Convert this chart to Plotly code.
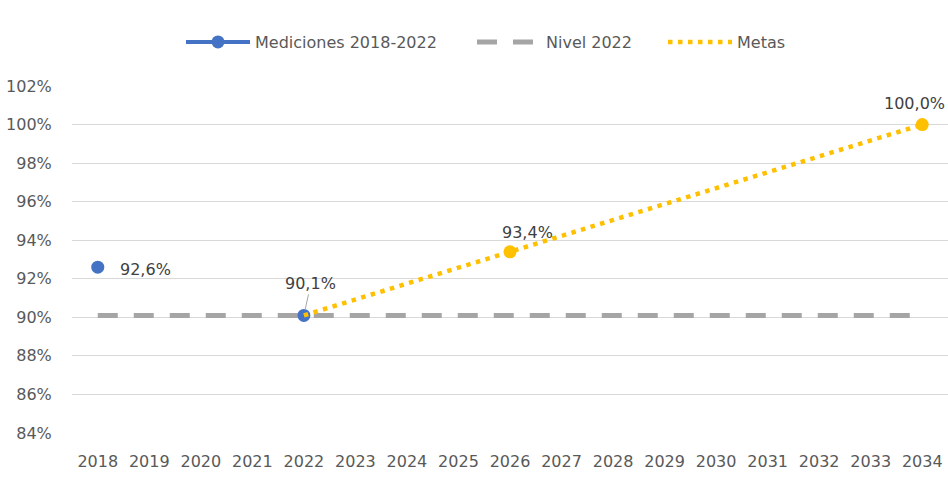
import plotly.graph_objects as go

years = [str(y) for y in range(2018, 2035)]
mediciones = [92.6, None, None, None, 90.1] + [None] * 12
nivel_2022 = [90.1] * 17
metas_years = ["2022", "2026", "2034"]
metas = [90.1, 93.4, 100.0]
y_ticks = list(range(84, 103, 2))
y_tick_labels = [f"{v}%" for v in y_ticks]

FONT = "DejaVu Sans"
GREY_TXT = "#595959"
BLUE = "#4472C4"
GOLD = "#FFC000"
DASH = "#A5A5A5"


def fmt(v):
    return f"{v:.1f}%".replace(".", ",")


def idx(year):
    return years.index(year)


fig = go.Figure()
fig.add_trace(go.Scatter(
    x=years, y=nivel_2022, name="Nivel 2022", mode="lines", legend="legend2",
    line=dict(color=DASH, width=5, dash="20px,16px")))
fig.add_trace(go.Scatter(
    x=years, y=mediciones, name="Mediciones 2018-2022", mode="lines+markers",
    legend="legend", line=dict(color=BLUE, width=4),
    marker=dict(size=13, color=BLUE), connectgaps=False))
fig.add_trace(go.Scatter(
    x=metas_years, y=metas, name="Metas", mode="lines", legend="legend3",
    line=dict(color=GOLD, width=4.5, dash="4.5px,5.5px")))
fig.add_trace(go.Scatter(
    x=metas_years[1:], y=metas[1:], name="Metas", mode="markers",
    showlegend=False, marker=dict(size=13, color=GOLD)))

ann_font = dict(family=FONT, size=16, color="#404040")
annotations = [
    dict(x=idx(years[0]), y=mediciones[0], text=fmt(mediciones[0]),
         xref="x", yref="y", showarrow=False, xanchor="left",
         xshift=20, yshift=-2, font=ann_font),
    dict(x=idx("2022"), y=mediciones[4], text=fmt(mediciones[4]),
         xref="x", yref="y", showarrow=True, arrowhead=0, arrowwidth=1,
         arrowcolor="#A6A6A6", ax=7, ay=-32, standoff=6, font=ann_font),
    dict(x=idx(metas_years[1]), y=metas[1], text=fmt(metas[1]),
         xref="x", yref="y", showarrow=False, xshift=17, yshift=19,
         font=ann_font),
    dict(x=idx(metas_years[2]), y=metas[2], text=fmt(metas[2]),
         xref="x", yref="y", showarrow=False, xshift=-8, yshift=21,
         font=ann_font),
]

leg_common = dict(orientation="h", xref="container", yref="container",
                  y=1 - 42 / 481, yanchor="middle", xanchor="left",
                  font=dict(family=FONT, size=16, color=GREY_TXT),
                  itemwidth=64, bgcolor="rgba(0,0,0,0)")

fig.update_layout(
    width=948, height=481,
    margin=dict(l=72, r=0, t=86, b=48, autoexpand=False),
    paper_bgcolor="white", plot_bgcolor="white",
    font=dict(family=FONT, size=16, color=GREY_TXT),
    showlegend=True,
    annotations=annotations,
    legend=dict(x=(189 - 8) / 948, **leg_common),
    legend2=dict(x=(480 - 8) / 948, **leg_common),
    legend3=dict(x=(671 - 8) / 948, **leg_common),
    xaxis=dict(type="category", categoryorder="array", categoryarray=years,
               range=[-0.5, 16.5], showgrid=False, showline=False,
               ticks="outside", ticklen=14, tickcolor="rgba(0,0,0,0)",
               tickfont=dict(family=FONT, size=16, color=GREY_TXT)),
    yaxis=dict(range=[84, 102], tickmode="array", tickvals=y_ticks,
               ticktext=y_tick_labels,
               showgrid=True, gridcolor="#D9D9D9", gridwidth=1,
               zeroline=False, showline=False, ticks="outside", ticklen=16,
               tickcolor="rgba(0,0,0,0)",
               tickfont=dict(family=FONT, size=16, color=GREY_TXT)),
)

fig.write_html("out.html",
               config={"displayModeBar": False},
               post_script="document.body.style.margin='0';"
                           "document.body.style.overflow='hidden';")
